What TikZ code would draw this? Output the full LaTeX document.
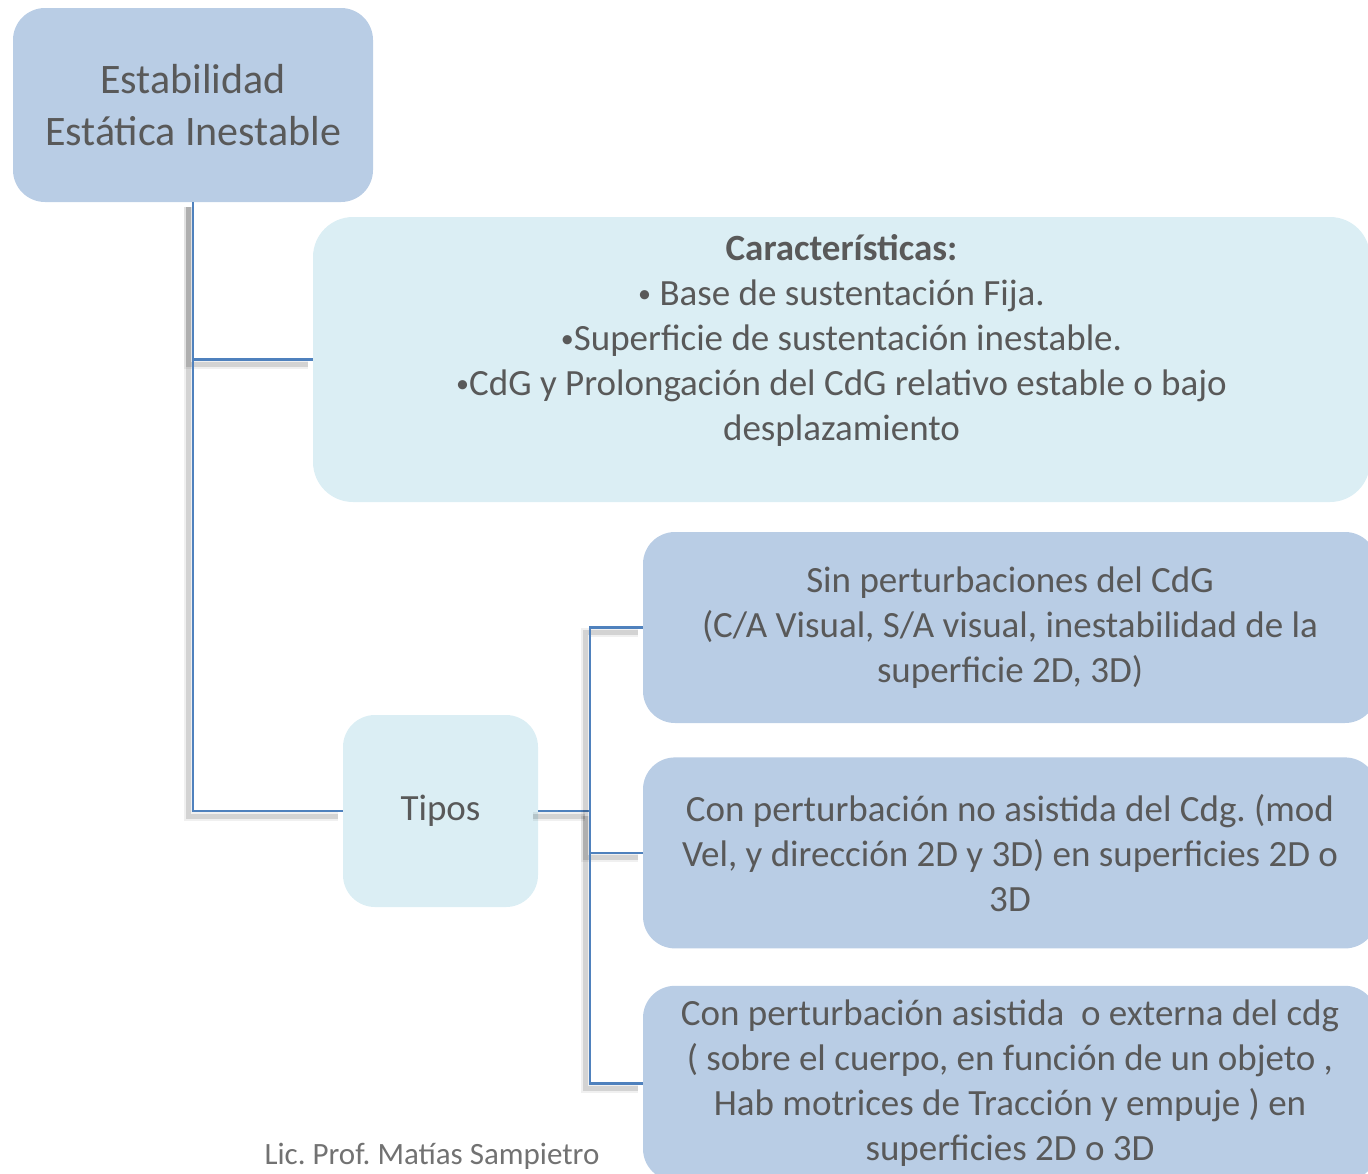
\documentclass[tikz,border=0pt]{standalone}
\usepackage{fontspec}
\setmainfont{Carlito}
\usetikzlibrary{positioning}

\definecolor{boxdark}{HTML}{B9CDE5}
\definecolor{boxlight}{HTML}{DBEEF4}
\definecolor{textgray}{HTML}{595959}
\definecolor{linkblue}{HTML}{4F81BD}
\newcommand{\smallbullet}{\raisebox{3pt}{\fontsize{26}{26}\selectfont •}}
\frenchspacing

\begin{document}
\begin{tikzpicture}[x=1pt, y=-1pt]
        \tikzset{
            every node/.style={text=textgray, align=center, font=\fontsize{37}{45}\selectfont}, % gray text, centred lines
            dark box/.style={fill=boxdark, rounded corners=32pt, minimum width=734pt, minimum height=191pt}, % the three right boxes
            light box/.style={fill=boxlight, rounded corners=40pt}, % characteristics and types
            link/.style={draw=linkblue, line width=2.6pt,
                preaction={draw=black, opacity=0.06, line width=9pt, transform canvas={xshift=-5pt, yshift=-5pt}},
                preaction={draw=black, opacity=0.12, line width=5pt, transform canvas={xshift=-5pt, yshift=-5pt}}}, % connector with a soft shadow
            }

        \useasboundingbox (0,0) rectangle (1368,1173);

        % nodes
        \node[fill=boxdark, rounded corners=32pt, minimum width=360pt, minimum height=194pt, font=\fontsize{42}{52}\selectfont] (title_node) at (193,105) {Estabilidad\\ Estática Inestable};
        \node[light box, minimum width=1057pt, minimum height=285pt] (char_node) at (841.5,359.5) {\textbf{Características:}\\ \smallbullet{} Base de sustentación Fija.\\ \smallbullet Superficie de sustentación inestable.\\ \smallbullet CdG y Prolongación del CdG relativo estable o bajo\\ desplazamiento\\ \phantom{x}};
        \node[light box, rounded corners=32pt, minimum width=195pt, minimum height=192pt] (tipos_node) at (440.5,811) {Tipos};
        \node[dark box] (sin_node) at (1010,627.5) {Sin perturbaciones del CdG\\ (C/A Visual, S/A visual, inestabilidad de la\\ superficie 2D, 3D)};
        \node[dark box, below=34pt of sin_node] (con_node) {Con perturbación no asistida del Cdg. (mod\\ Vel, y dirección 2D y 3D) en superficies 2D o\\ 3D};
        \node[dark box, minimum height=195pt, below=37pt of con_node] (asist_node) {Con perturbación asistida~ o externa del cdg\\ ( sobre el cuerpo, en función de un objeto ,\\ Hab motrices de Tracción y empuje ) en\\ superficies 2D o 3D};
        \node[text=textgray!85, font=\fontsize{31}{36}\selectfont] (author_label) at (432,1156) {Lic. Prof. Matías Sampietro};
        \coordinate (tipos_branch) at (590,811);

        % title paths
        \draw[link] (title_node.south) |- (char_node.west);
        \draw[link] (title_node.south) |- (tipos_node.west);

        % tipos paths
        \draw[link] (tipos_node.east) -- (tipos_branch);
        \draw[link] (tipos_branch) |- (sin_node.west);
        \draw[link] (tipos_branch) |- (con_node.west);
        \draw[link] (tipos_branch) |- (asist_node.west);
\end{tikzpicture}
\end{document}
